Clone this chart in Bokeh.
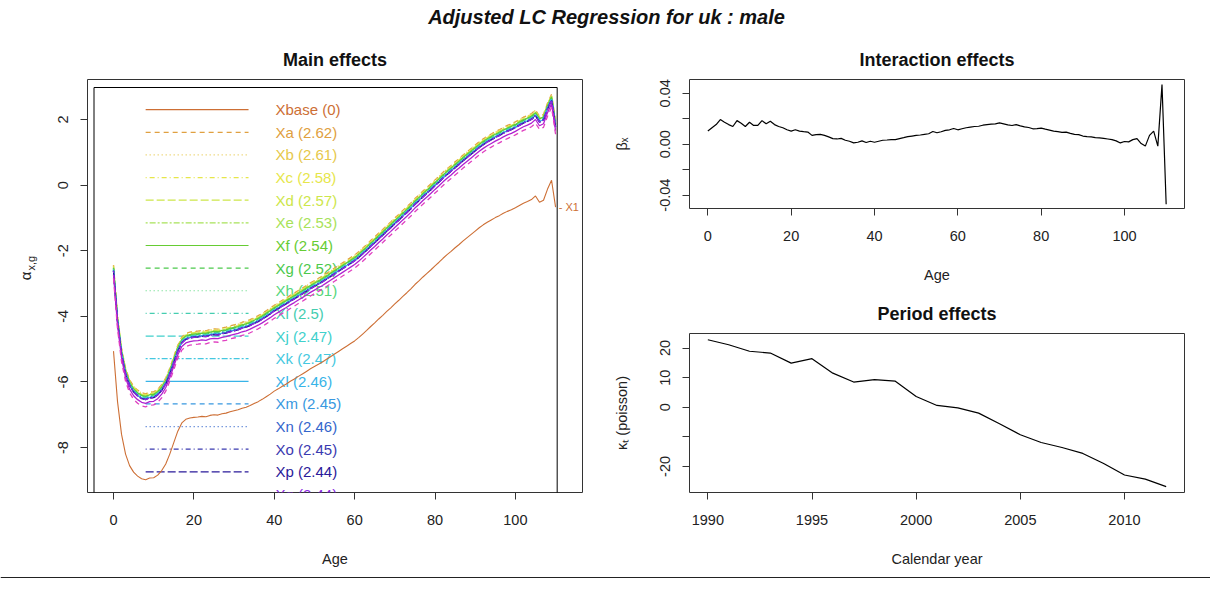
import math
from bokeh.plotting import figure
from bokeh.layouts import column, row
from bokeh.models import FixedTicker, ColumnDataSource, Range1d, Span
from bokeh.transform import dodge
from bokeh.core.properties import value
from bokeh.embed import file_html
from bokeh.resources import INLINE

# ---------------- data ----------------
ages = list(range(0, 111))
alpha_base = [
    -5.06, -6.60, -7.60, -8.20, -8.55, -8.75, -8.87, -8.95, -8.98, -8.93,
    -8.92, -8.84, -8.70, -8.50, -8.20, -7.85, -7.50, -7.25, -7.14, -7.10,
    -7.08, -7.07, -7.05, -7.06, -7.02, -7.00, -7.01, -6.97, -6.95, -6.91,
    -6.88, -6.85, -6.80, -6.77, -6.72, -6.66, -6.60, -6.53, -6.45, -6.37,
    -6.28, -6.21, -6.13, -6.06, -5.98, -5.91, -5.83, -5.76, -5.68, -5.60,
    -5.53, -5.46, -5.39, -5.31, -5.23, -5.15, -5.07, -4.99, -4.91, -4.83,
    -4.75, -4.65, -4.54, -4.43, -4.31, -4.20, -4.08, -3.97, -3.85, -3.74,
    -3.62, -3.51, -3.39, -3.28, -3.16, -3.03, -2.92, -2.80, -2.69, -2.58,
    -2.46, -2.35, -2.23, -2.12, -2.02, -1.91, -1.81, -1.70, -1.60, -1.50,
    -1.40, -1.30, -1.21, -1.13, -1.06, -0.99, -0.93, -0.86, -0.80, -0.75,
    -0.69, -0.62, -0.55, -0.50, -0.44, -0.33, -0.52, -0.46, -0.12, 0.15,
    -0.67,
]
series_names = ["Xbase", "Xa", "Xb", "Xc", "Xd", "Xe", "Xf", "Xg", "Xh", "Xi",
                "Xj", "Xk", "Xl", "Xm", "Xn", "Xo", "Xp", "Xq", "Xr", "Xs"]
series_shift = [0, 2.62, 2.61, 2.58, 2.57, 2.53, 2.54, 2.52, 2.51, 2.50,
                2.47, 2.47, 2.46, 2.45, 2.46, 2.45, 2.44, 2.44, 2.33, 2.22]
legend_labels = ["Xbase (0)", "Xa  (2.62)", "Xb  (2.61)", "Xc  (2.58)", "Xd  (2.57)",
                 "Xe  (2.53)", "Xf (2.54)", "Xg  (2.52)", "Xh  (2.51)", "Xi  (2.5)",
                 "Xj  (2.47)", "Xk  (2.47)", "Xl  (2.46)", "Xm  (2.45)", "Xn  (2.46)",
                 "Xo  (2.45)", "Xp  (2.44)", "Xq  (2.44)", "Xr  (2.33)", "Xs  (2.22)"]

beta_x = [
    0.0103, 0.0129, 0.0154, 0.0193, 0.0172, 0.0154, 0.0139, 0.0185, 0.0165, 0.0139,
    0.0172, 0.0147, 0.0147, 0.0185, 0.0160, 0.0180, 0.0154, 0.0139, 0.0129, 0.0113,
    0.0103, 0.0113, 0.0103, 0.0098, 0.0095, 0.0069, 0.0075, 0.0077, 0.0069, 0.0057,
    0.0044, 0.0041, 0.0046, 0.0031, 0.0023, 0.0010, 0.0015, 0.0026, 0.0013, 0.0023,
    0.0015, 0.0023, 0.0031, 0.0033, 0.0036, 0.0036, 0.0044, 0.0051, 0.0059, 0.0064,
    0.0069, 0.0072, 0.0077, 0.0082, 0.0100, 0.0090, 0.0098, 0.0108, 0.0113, 0.0123,
    0.0113, 0.0121, 0.0129, 0.0134, 0.0139, 0.0141, 0.0149, 0.0154, 0.0157, 0.0160,
    0.0167, 0.0160, 0.0152, 0.0147, 0.0154, 0.0144, 0.0136, 0.0131, 0.0121, 0.0123,
    0.0126, 0.0118, 0.0111, 0.0103, 0.0098, 0.0093, 0.0095, 0.0085, 0.0077, 0.0075,
    0.0064, 0.0059, 0.0057, 0.0051, 0.0049, 0.0046, 0.0041, 0.0036, 0.0026, 0.0010,
    0.0021, 0.0018, 0.0036, 0.0044, 0.0005, -0.0015, 0.0069, 0.0103, -0.0015, 0.0468,
    -0.0471,
]

years = list(range(1990, 2013))
kappa_t = [22.8, 21.1, 18.9, 18.3, 14.9, 16.4, 11.5, 8.5, 9.3, 8.8, 3.6, 0.6,
           -0.2, -2.0, -5.6, -9.3, -11.9, -13.6, -15.6, -19.0, -22.9, -24.3, -26.8]

main_xticks = [0, 20, 40, 60, 80, 100]
main_xlabels = ["0", "20", "40", "60", "80", "100"]
main_yticks = [-8, -6, -4, -2, 0, 2]
main_ylabels = ["-8", "-6", "-4", "-2", "0", "2"]
int_yticks = [-0.04, -0.02, 0, 0.02, 0.04]
int_ylabels = ["-0.04", "", "0.00", "", "0.04"]
per_xticks = [1990, 1995, 2000, 2005, 2010]
per_xlabels = ["1990", "1995", "2000", "2005", "2010"]
per_yticks = [-20, -10, 0, 10, 20]
per_ylabels = ["-20", "", "0", "10", "20"]

# ---------------- styles ----------------
FONT = "Liberation Sans"
TICK_FS = "14.5px"
series_colors = ["#CD6F35", "#E0A040", "#E6C84A", "#E6E64A", "#CDE64A", "#A8E25A",
                 "#66CC33", "#4CC94C", "#55D67A", "#45CDB0", "#40D0CC", "#45C8E0",
                 "#38B4E8", "#3898E0", "#3466CC", "#3A3AB0", "#2A1A9A", "#8A2BE2",
                 "#B020D0", "#E040C0"]
dash_cycle = ["solid", "5 4", "1 3", "1 3 5 3", "8 3", "2 2 6 2"]
FRAME = "#333333"
TXT = "#222222"


def blank(width, height):
    f = figure(width=width, height=height, x_range=Range1d(0, width), y_range=Range1d(0, height),
               min_border=0, x_axis_type=None, y_axis_type=None,
               output_backend="svg", toolbar_location=None)
    f.outline_line_color = None
    f.xgrid.visible = False
    f.ygrid.visible = False
    return f


def style_axes(p, xticks, xlabels, yticks, ylabels, xlabel, ylabel):
    p.xgrid.visible = False
    p.ygrid.visible = False
    p.outline_line_color = FRAME
    p.outline_line_width = 1
    p.xaxis.ticker = FixedTicker(ticks=xticks)
    p.yaxis.ticker = FixedTicker(ticks=yticks)
    p.xaxis.major_label_overrides = {t: l for t, l in zip(xticks, xlabels)}
    p.yaxis.major_label_overrides = {t: l for t, l in zip(yticks, ylabels)}
    for ax in (p.xaxis[0], p.yaxis[0]):
        ax.axis_line_color = None
        ax.major_tick_out = 7
        ax.major_tick_in = 0
        ax.minor_tick_line_color = None
        ax.major_tick_line_color = FRAME
        ax.major_label_text_font = FONT
        ax.major_label_text_font_size = TICK_FS
        ax.major_label_text_color = TXT
        ax.axis_label_text_font = FONT
        ax.axis_label_text_font_size = TICK_FS
        ax.axis_label_text_font_style = "normal"
        ax.axis_label_text_color = TXT
    p.xaxis.major_label_standoff = 15
    p.yaxis.major_label_standoff = 12
    p.yaxis.major_label_orientation = "parallel"
    p.xaxis.axis_label = xlabel
    p.xaxis.axis_label_standoff = 23
    if ylabel:
        p.yaxis.axis_label = ylabel
        p.yaxis.axis_label_standoff = 28
    p.title.align = "center"
    p.title.text_font = FONT
    p.title.text_font_size = "18px"
    p.title.text_font_style = "bold"
    p.title.text_color = "#111111"
    p.title.standoff = 19


# ---------------- top strip (super title) ----------------
top = blank(1210, 38)
SUP_X, SUP_Y = 606, 22
top.text(x=[SUP_X], y=[SUP_Y], text=["Adjusted LC Regression for uk : male"],
         text_align="center", text_baseline="middle", text_font=value(FONT),
         text_font_size="20px", text_font_style="bold italic", text_color="#111111")

# ---------------- y label strip for main effects ----------------
ylab = blank(40, 536)
ylab.text(x=[25], y=[281], text=["α"], angle=math.pi / 2, text_align="center",
          text_baseline="middle", text_font=value(FONT), text_font_size="15px", text_color=TXT)
ylab.text(x=[30], y=[288], text=["x,g"], angle=math.pi / 2, text_align="left",
          text_baseline="middle", text_font=value(FONT), text_font_size="11px", text_color=TXT)

# ---------------- main effects ----------------
p1 = figure(width=560, height=536, x_range=Range1d(-6.47, 116.7), y_range=Range1d(-9.37, 3.22),
            min_border_left=47, min_border_right=18, min_border_top=40, min_border_bottom=82,
            title="Main effects", output_backend="svg", toolbar_location=None)
style_axes(p1, main_xticks, main_xlabels, main_yticks, main_ylabels, "Age", None)

# legend box and legend rows (drawn first, the curves go over them)
BOX_L, BOX_R, BOX_T, BOX_B = -4.85, 110.4, 2.976, -12
p1.quad(left=[BOX_L], right=[BOX_R], top=[BOX_T], bottom=[BOX_B], fill_color=None,
        line_color="black", line_width=1)
LEG_TOP, LEG_STEP = 2.30, 0.69
LEG_X0, LEG_X1, LEG_TX = 8.0, 33.6, 40.3
leg_y = [LEG_TOP - i * LEG_STEP for i in range(len(series_names))]
for i, c in enumerate(series_colors):
    p1.segment(x0=[LEG_X0], y0=[leg_y[i]], x1=[LEG_X1], y1=[leg_y[i]], line_color=c,
               line_width=1.2, line_dash=dash_cycle[i % 6])
leg_src = ColumnDataSource(dict(x=[LEG_TX] * len(series_names), y=leg_y,
                                text=legend_labels, color=series_colors))
p1.text(x="x", y="y", text="text", text_color="color", source=leg_src,
        text_font=value(FONT), text_font_size="15px", text_baseline="middle",
        text_align="left")

src = ColumnDataSource(dict(age=ages, alpha=alpha_base))
for i, (shift, c) in enumerate(zip(series_shift, series_colors)):
    p1.line(x="age", y=dodge("alpha", shift), source=src, line_color=c,
            line_width=1.1 if i == 0 else 1.3, line_dash=dash_cycle[i % 6])

p1.text(x=[ages[-1] + 0.8], y=[alpha_base[-1]], text=["- X1"], text_color=series_colors[0],
        text_font=value(FONT), text_font_size="11px", text_baseline="middle")

# ---------------- interaction effects ----------------
p2 = figure(width=610, height=252, x_range=Range1d(-4.4, 114.4), y_range=Range1d(-0.0505, 0.0508),
            min_border_left=89, min_border_right=26, min_border_top=40, min_border_bottom=82,
            title="Interaction effects", output_backend="svg", toolbar_location=None)
style_axes(p2, main_xticks, main_xlabels, int_yticks, int_ylabels, "Age", "βₓ")
p2.line(x=ages, y=beta_x, line_color="black", line_width=1.2)

# ---------------- period effects ----------------
p3 = figure(width=610, height=284, x_range=Range1d(1989.12, 2012.88), y_range=Range1d(-28.8, 24.9),
            min_border_left=89, min_border_right=26, min_border_top=43, min_border_bottom=82,
            title="Period effects", output_backend="svg", toolbar_location=None)
style_axes(p3, per_xticks, per_xlabels, per_yticks, per_ylabels, "Calendar year", "κₜ (poisson)")
p3.line(x=years, y=kappa_t, line_color="black", line_width=1.2)

# ---------------- bottom strip (rule) ----------------
bot = blank(1210, 12)
bot.add_layout(Span(location=9, dimension="width", line_color="#222222", line_width=1))

layout = column(top, row(ylab, p1, column(p2, p3)), bot)
open("out.html", "w").write(file_html(layout, INLINE))
